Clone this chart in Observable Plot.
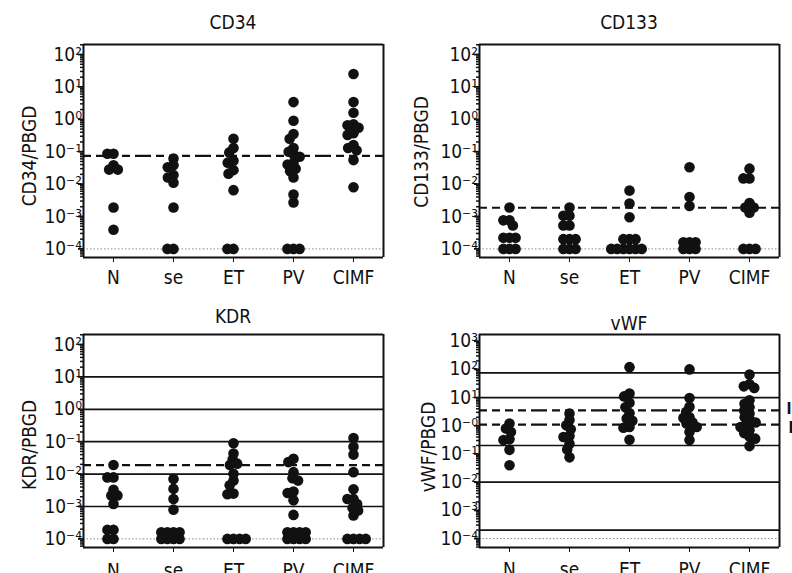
<!DOCTYPE html>
<html><head><meta charset="utf-8">
<script src="https://cdn.jsdelivr.net/npm/d3@7"></script>
<script src="https://cdn.jsdelivr.net/npm/@observablehq/plot@0.6"></script>
<style>
body{margin:0;background:#fff;width:792px;height:573px;overflow:hidden;position:relative;}
.panel{position:absolute;}
.title,.ylab{position:absolute;font-size:19px;line-height:19px;color:#111;white-space:nowrap;
  font-family:"Liberation Sans Narrow","DejaVu Sans Condensed","DejaVu Sans",sans-serif;font-stretch:condensed;}
.title{width:300px;text-align:center;}
.ylab{transform:translate(-50%,-50%) rotate(-90deg);}
</style></head><body>
<script>
const FONT = '"Liberation Sans Narrow","DejaVu Sans Condensed","DejaVu Sans",sans-serif';
const categories = ["N", "se", "ET", "PV", "CIMF"];

// CD34/PBGD
const cd34_N = [0.086, 0.086, 0.038, 0.028, 0.028, 0.0019, 0.00039];
const cd34_se = [0.062, 0.038, 0.033, 0.019, 0.016, 0.011, 0.0019, 1e-4, 1e-4];
const cd34_ET = [0.25, 0.13, 0.095, 0.053, 0.046, 0.027, 0.021, 0.0065, 1e-4, 1e-4];
const cd34_PV = [3.4, 0.9, 0.35, 0.25, 0.13, 0.1, 0.08, 0.07, 0.045, 0.04, 0.03, 0.025, 0.016, 0.0048, 0.0027, 1e-4, 1e-4, 1e-4];
const cd34_CIMF = [25, 3.4, 1.6, 0.7, 0.65, 0.55, 0.37, 0.33, 0.16, 0.13, 0.11, 0.055, 0.008];

// CD133/PBGD
const cd133_N = [0.0019, 0.00076, 0.00076, 0.00053, 0.00022, 0.00022, 0.00022, 1e-4, 1e-4, 1e-4];
const cd133_se = [0.0019, 0.00105, 0.00105, 0.00053, 0.00053, 0.0002, 0.0002, 0.0002, 1e-4, 1e-4, 1e-4];
const cd133_ET = [0.0063, 0.0025, 0.00095, 0.0002, 0.0002, 0.0002, 1e-4, 1e-4, 1e-4, 1e-4, 1e-4, 1e-4];
const cd133_PV = [0.033, 0.004, 0.0021, 0.00016, 0.00016, 0.00016, 1e-4, 1e-4, 1e-4];
const cd133_CIMF = [0.03, 0.015, 0.015, 0.0026, 0.0019, 0.0019, 0.0013, 1e-4, 1e-4, 1e-4];

// KDR/PBGD
const kdr_N = [0.019, 0.0079, 0.0079, 0.0033, 0.0022, 0.0022, 0.0012, 0.00019, 0.00019, 1e-4, 1e-4];
const kdr_se = [0.0071, 0.0035, 0.0017, 0.0008, 0.00016, 0.00016, 0.00016, 0.00016, 1e-4, 1e-4, 1e-4, 1e-4];
const kdr_ET = [0.09, 0.043, 0.028, 0.021, 0.019, 0.0102, 0.0063, 0.0045, 0.0025, 0.0024, 1e-4, 1e-4, 1e-4, 1e-4];
const kdr_PV = [0.0296, 0.0235, 0.0115, 0.0075, 0.0063, 0.0029, 0.0026, 0.00155, 0.00055, 0.00016, 0.00016, 0.00016, 0.00016, 1e-4, 1e-4, 1e-4, 1e-4];
const kdr_CIMF = [0.13, 0.07, 0.04, 0.0115, 0.0034, 0.0017, 0.0017, 0.0012, 0.0009, 0.00075, 0.00053, 1e-4, 1e-4, 1e-4, 1e-4];

// vWF/PBGD
const vwf_N = [1.2, 0.8, 0.6, 0.33, 0.31, 0.14, 0.04];
const vwf_se = [2.7, 1.6, 1.05, 0.75, 0.43, 0.4, 0.23, 0.145, 0.076];
const vwf_ET = [120, 14, 11, 6.5, 4.5, 2.8, 1.8, 1.5, 0.9, 0.85, 0.32];
const vwf_PV = [100, 9.7, 4.7, 3.1, 2.0, 1.9, 1.3, 1.2, 0.9, 0.6, 0.31];
const vwf_CIMF = [66, 30, 25, 22, 8, 6, 4.5, 3.5, 2.7, 2, 1.6, 1.3, 1.1, 0.9, 0.7, 0.55, 0.42, 0.35, 0.19];

// axes
const ticksA = [1e2, 1e1, 1, 1e-1, 1e-2, 1e-3, 1e-4];
const tickLabelsA = ["10²", "10¹", "10⁰", "10⁻¹", "10⁻²", "10⁻³", "10⁻⁴"];
const ticksV = [1e3, 1e2, 1e1, 1, 1e-1, 1e-2, 1e-3, 1e-4];
const tickLabelsV = ["10³", "10²", "10¹", "10⁻⁰", "10⁻¹", "10⁻²", "10⁻³", "10⁻⁴"];
const domainA = [5.43e-5, 203.5];
const domainV = [4.82e-5, 1726];

// reference lines
const detectionLimit = [1e-4];
const cd34Cutoff = [0.074];
const cd133Cutoff = [0.00186];
const kdrCutoff = [0.019];
const kdrGrid = [10, 1, 0.1, 0.01, 0.001];
const vwfGrid = [75, 10, 0.2, 0.01, 2e-4];
const vwfCutoffs = [3.5, 1.1];
const vwfCutoffLabels = ["II", "I"];

function panel({groups, domain, ticks, labels, grid = [], cutoffs = [], cutoffLabels = null, fxPad = 8}) {
  const data = [];
  categories.forEach((c, i) => groups[i].forEach(v => data.push({c, v})));
  const minor = [];
  for (let e = -6; e <= 4; e++) for (let m = 2; m <= 9; m++) {
    const t = m * Math.pow(10, e);
    if (t >= domain[0] && t <= domain[1]) minor.push(t);
  }
  const fmt = new Map(ticks.map((t, i) => [t, labels[i]]));
  const last = categories[categories.length - 1];
  const marks = [
    Plot.ruleY(detectionLimit, {stroke: "#8a8a8a", strokeWidth: 1, strokeDasharray: "1.5,2"}),
    Plot.ruleY(grid, {stroke: "#111", strokeWidth: 1.7}),
    Plot.ruleY(cutoffs, {stroke: "#111", strokeWidth: 2.2, strokeDasharray: "8,5"}),
    Plot.dot(data, Plot.dodgeX({anchor: "middle", padding: -4.5}, {fx: "c", y: "v", r: 5.3, fill: "#111"})),
    Plot.ruleY([domain[0], domain[1]], {stroke: "#111", strokeWidth: 2}),
    Plot.ruleX([{c: categories[0], x: 0}], {fx: "c", x: "x", stroke: "#111", strokeWidth: 2}),
    Plot.ruleX([{c: last, x: 1}], {fx: "c", x: "x", stroke: "#111", strokeWidth: 2}),
    Plot.axisY({ticks: minor, tickSize: 3, tickFormat: () => "", label: null, strokeWidth: 1.5}),
    Plot.axisY({ticks, tickSize: 5, tickFormat: () => "", label: null, strokeWidth: 1.8}),
    Plot.axisY({ticks, tickSize: 0, tickPadding: 1.5, tickFormat: d => fmt.get(d), label: null, fontSize: 19})
  ];
  if (cutoffLabels) {
    cutoffs.forEach((v, i) => {
      marks.push(Plot.text([{c: last, x: 1, v, t: cutoffLabels[i]}], {
        fx: "c", x: "x", y: "v", text: "t", dx: i === 0 ? 7 : 9, dy: i === 0 ? -1 : 4,
        textAnchor: "start", fontWeight: "bold", fontSize: 15}));
    });
  }
  return Plot.plot({
    width: 396, height: 290,
    marginLeft: 83, marginRight: 13, marginTop: 44, marginBottom: 33,
    style: {fontFamily: FONT, fontSize: "19px", fontStretch: "condensed", color: "#111", background: "none"},
    x: {domain: [0, 1], axis: null},
    fx: {domain: categories, padding: 0, label: null, tickSize: 5, tickPadding: fxPad},
    y: {type: "log", domain, axis: null},
    marks
  });
}

function place(node, left, top) {
  const d = document.createElement("div");
  d.className = "panel";
  d.style.left = left + "px"; d.style.top = top + "px";
  d.appendChild(node);
  document.body.appendChild(d);
}
function label(cls, text, left, top) {
  const d = document.createElement("div");
  d.className = cls;
  d.style.left = left + "px"; d.style.top = top + "px";
  d.textContent = text;
  document.body.appendChild(d);
}

place(panel({groups: [cd34_N, cd34_se, cd34_ET, cd34_PV, cd34_CIMF],
  domain: domainA, ticks: ticksA, labels: tickLabelsA, cutoffs: cd34Cutoff}), 0, 0);
place(panel({groups: [cd133_N, cd133_se, cd133_ET, cd133_PV, cd133_CIMF],
  domain: domainA, ticks: ticksA, labels: tickLabelsA, cutoffs: cd133Cutoff}), 396, 0);
place(panel({groups: [kdr_N, kdr_se, kdr_ET, kdr_PV, kdr_CIMF],
  domain: domainA, ticks: ticksA, labels: tickLabelsA, grid: kdrGrid, cutoffs: kdrCutoff, fxPad: 11}), 0, 290);
place(panel({groups: [vwf_N, vwf_se, vwf_ET, vwf_PV, vwf_CIMF],
  domain: domainV, ticks: ticksV, labels: tickLabelsV, grid: vwfGrid, cutoffs: vwfCutoffs,
  cutoffLabels: vwfCutoffLabels, fxPad: 10}), 396, 290);

label("title", "CD34", 83, 13);
label("title", "CD133", 479, 13);
label("title", "KDR", 83, 307);
label("title", "vWF", 479, 314);
label("ylab", "CD34/PBGD", 29, 156);
label("ylab", "CD133/PBGD", 421, 152);
label("ylab", "KDR/PBGD", 29, 445);
label("ylab", "vWF/PBGD", 428, 447);
</script>
</body></html>
